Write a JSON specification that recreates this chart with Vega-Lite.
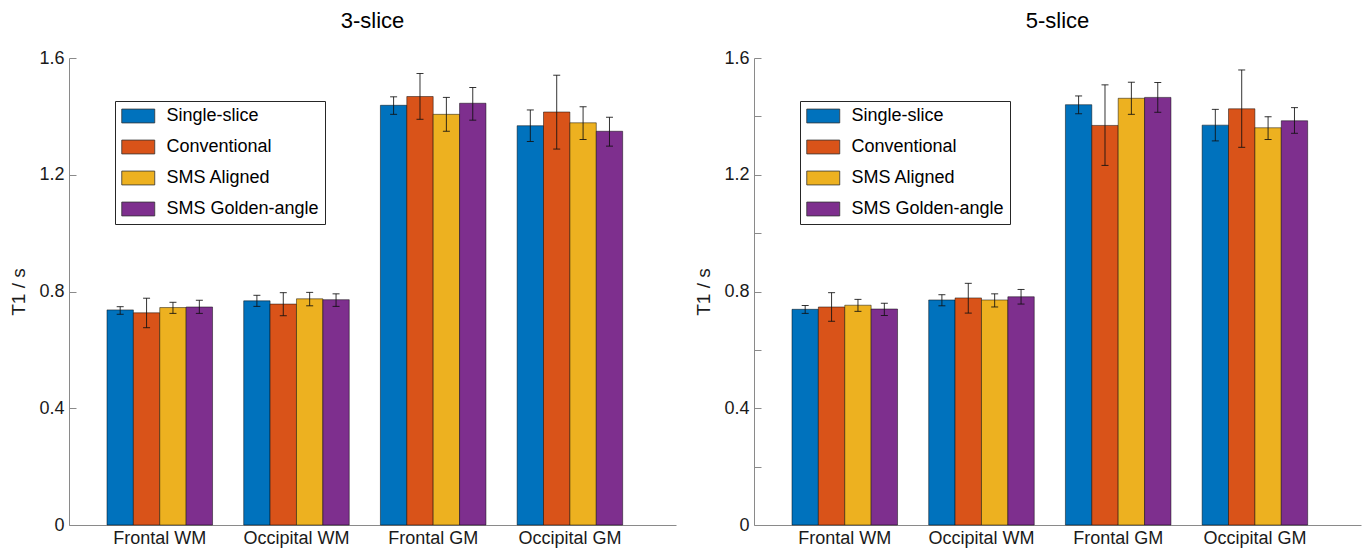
{
  "$schema": "https://vega.github.io/schema/vega-lite/v6.json",
  "background": "white",
  "padding": {"left": 9, "top": 10, "right": 5, "bottom": 5},
  "spacing": 18,
  "config": {
    "view": {"stroke": null},
    "font": "Liberation Sans",
    "axis": {"labelFont": "Liberation Sans", "titleFont": "Liberation Sans", "labelColor": "#1a1a1a", "titleColor": "#1a1a1a", "domainColor": "#8a8a8a", "tickColor": "#8a8a8a", "grid": false, "labelFontSize": 18, "titleFontSize": 19, "titleFontWeight": "normal"}
  },
  "data": {"values": [
    {"panel": "3-slice", "region": "Frontal WM", "method": "Single-slice", "mean": 0.737, "lo": 0.722, "hi": 0.748},
    {"panel": "3-slice", "region": "Frontal WM", "method": "Conventional", "mean": 0.727, "lo": 0.676, "hi": 0.777},
    {"panel": "3-slice", "region": "Frontal WM", "method": "SMS Aligned", "mean": 0.745, "lo": 0.725, "hi": 0.763},
    {"panel": "3-slice", "region": "Frontal WM", "method": "SMS Golden-angle", "mean": 0.747, "lo": 0.725, "hi": 0.770},
    {"panel": "3-slice", "region": "Occipital WM", "method": "Single-slice", "mean": 0.768, "lo": 0.749, "hi": 0.787},
    {"panel": "3-slice", "region": "Occipital WM", "method": "Conventional", "mean": 0.757, "lo": 0.717, "hi": 0.796},
    {"panel": "3-slice", "region": "Occipital WM", "method": "SMS Aligned", "mean": 0.775, "lo": 0.751, "hi": 0.797},
    {"panel": "3-slice", "region": "Occipital WM", "method": "SMS Golden-angle", "mean": 0.772, "lo": 0.749, "hi": 0.792},
    {"panel": "3-slice", "region": "Frontal GM", "method": "Single-slice", "mean": 1.438, "lo": 1.407, "hi": 1.467},
    {"panel": "3-slice", "region": "Frontal GM", "method": "Conventional", "mean": 1.468, "lo": 1.390, "hi": 1.547},
    {"panel": "3-slice", "region": "Frontal GM", "method": "SMS Aligned", "mean": 1.407, "lo": 1.349, "hi": 1.465},
    {"panel": "3-slice", "region": "Frontal GM", "method": "SMS Golden-angle", "mean": 1.445, "lo": 1.387, "hi": 1.499},
    {"panel": "3-slice", "region": "Occipital GM", "method": "Single-slice", "mean": 1.368, "lo": 1.314, "hi": 1.422},
    {"panel": "3-slice", "region": "Occipital GM", "method": "Conventional", "mean": 1.415, "lo": 1.288, "hi": 1.541},
    {"panel": "3-slice", "region": "Occipital GM", "method": "SMS Aligned", "mean": 1.378, "lo": 1.321, "hi": 1.433},
    {"panel": "3-slice", "region": "Occipital GM", "method": "SMS Golden-angle", "mean": 1.349, "lo": 1.298, "hi": 1.397},
    {"panel": "5-slice", "region": "Frontal WM", "method": "Single-slice", "mean": 0.739, "lo": 0.725, "hi": 0.752},
    {"panel": "5-slice", "region": "Frontal WM", "method": "Conventional", "mean": 0.747, "lo": 0.698, "hi": 0.796},
    {"panel": "5-slice", "region": "Frontal WM", "method": "SMS Aligned", "mean": 0.753, "lo": 0.732, "hi": 0.773},
    {"panel": "5-slice", "region": "Frontal WM", "method": "SMS Golden-angle", "mean": 0.740, "lo": 0.718, "hi": 0.760},
    {"panel": "5-slice", "region": "Occipital WM", "method": "Single-slice", "mean": 0.771, "lo": 0.751, "hi": 0.789},
    {"panel": "5-slice", "region": "Occipital WM", "method": "Conventional", "mean": 0.778, "lo": 0.726, "hi": 0.828},
    {"panel": "5-slice", "region": "Occipital WM", "method": "SMS Aligned", "mean": 0.771, "lo": 0.747, "hi": 0.792},
    {"panel": "5-slice", "region": "Occipital WM", "method": "SMS Golden-angle", "mean": 0.782, "lo": 0.757, "hi": 0.807},
    {"panel": "5-slice", "region": "Frontal GM", "method": "Single-slice", "mean": 1.440, "lo": 1.409, "hi": 1.470},
    {"panel": "5-slice", "region": "Frontal GM", "method": "Conventional", "mean": 1.369, "lo": 1.232, "hi": 1.508},
    {"panel": "5-slice", "region": "Frontal GM", "method": "SMS Aligned", "mean": 1.462, "lo": 1.407, "hi": 1.517},
    {"panel": "5-slice", "region": "Frontal GM", "method": "SMS Golden-angle", "mean": 1.465, "lo": 1.414, "hi": 1.516},
    {"panel": "5-slice", "region": "Occipital GM", "method": "Single-slice", "mean": 1.370, "lo": 1.316, "hi": 1.424},
    {"panel": "5-slice", "region": "Occipital GM", "method": "Conventional", "mean": 1.426, "lo": 1.294, "hi": 1.559},
    {"panel": "5-slice", "region": "Occipital GM", "method": "SMS Aligned", "mean": 1.361, "lo": 1.321, "hi": 1.399},
    {"panel": "5-slice", "region": "Occipital GM", "method": "SMS Golden-angle", "mean": 1.385, "lo": 1.342, "hi": 1.430}
  ]},
  "resolve": {"scale": {"color": "independent"}, "legend": {"color": "independent"}},
  "hconcat": [
    {
      "width": 607, "height": 467,
      "title": {"text": "3-slice", "fontSize": 22, "fontWeight": "normal", "frame": "group", "anchor": "middle", "offset": 16, "color": "#000", "font": "Liberation Sans"},
      "transform": [{"filter": "datum.panel == '3-slice'"}],
      "encoding": {
        "x": {"field": "region", "type": "nominal", "sort": ["Frontal WM", "Occipital WM", "Frontal GM", "Occipital GM"], "scale": {"paddingInner": 0.228, "paddingOuter": 0.334, "align": 0.416}, "axis": {"title": null, "ticks": false, "labelAngle": 0, "labelPadding": 4}},
        "xOffset": {"field": "method", "type": "nominal", "sort": ["Single-slice", "Conventional", "SMS Aligned", "SMS Golden-angle"], "scale": {"paddingInner": 0, "paddingOuter": 0}}
      },
      "layer": [
        {"mark": {"type": "bar", "stroke": "#000", "strokeWidth": 0.8, "strokeOpacity": 0.6},
         "encoding": {
           "y": {"field": "mean", "type": "quantitative", "title": "T1 / s", "scale": {"domain": [0, 1.6], "nice": false}, "axis": {"values": [0, 0.4, 0.8, 1.2, 1.6], "format": "~g", "tickSize": -7, "labelPadding": 12, "titlePadding": 10}},
           "color": {"field": "method", "type": "nominal", "sort": ["Single-slice", "Conventional", "SMS Aligned", "SMS Golden-angle"], "scale": {"domain": ["Single-slice", "Conventional", "SMS Aligned", "SMS Golden-angle"], "range": ["#0072BD", "#D95319", "#EDB120", "#7E2F8E"]},
             "legend": {"title": null, "orient": "none", "legendX": 46, "legendY": 43, "strokeColor": "#262626", "fillColor": "white", "padding": 6, "labelFontSize": 18, "labelFont": "Liberation Sans", "labelColor": "#000", "symbolType": "M-1,-0.84H3V0.84H-1Z", "symbolSize": 272, "symbolStrokeColor": "#333", "symbolStrokeWidth": 0.8, "symbolOpacity": 1, "labelOffset": 27.5, "rowPadding": 13}}
         }},
        {"mark": {"type": "rule", "color": "#111", "strokeWidth": 1, "opacity": 0.85},
         "encoding": {"y": {"field": "lo", "type": "quantitative", "title": "T1 / s"}, "y2": {"field": "hi"}}},
        {"mark": {"type": "tick", "color": "#111", "size": 7, "thickness": 1, "orient": "horizontal", "opacity": 0.85},
         "encoding": {"y": {"field": "lo", "type": "quantitative", "title": "T1 / s"}}},
        {"mark": {"type": "tick", "color": "#111", "size": 7, "thickness": 1, "orient": "horizontal", "opacity": 0.85},
         "encoding": {"y": {"field": "hi", "type": "quantitative", "title": "T1 / s"}}}
      ]
    },
    {
      "width": 607, "height": 467,
      "title": {"text": "5-slice", "fontSize": 22, "fontWeight": "normal", "frame": "group", "anchor": "middle", "offset": 16, "color": "#000", "font": "Liberation Sans"},
      "transform": [{"filter": "datum.panel == '5-slice'"}],
      "encoding": {
        "x": {"field": "region", "type": "nominal", "sort": ["Frontal WM", "Occipital WM", "Frontal GM", "Occipital GM"], "scale": {"paddingInner": 0.228, "paddingOuter": 0.334, "align": 0.416}, "axis": {"title": null, "ticks": false, "labelAngle": 0, "labelPadding": 4}},
        "xOffset": {"field": "method", "type": "nominal", "sort": ["Single-slice", "Conventional", "SMS Aligned", "SMS Golden-angle"], "scale": {"paddingInner": 0, "paddingOuter": 0}}
      },
      "layer": [
        {"mark": {"type": "bar", "stroke": "#000", "strokeWidth": 0.8, "strokeOpacity": 0.6},
         "encoding": {
           "y": {"field": "mean", "type": "quantitative", "title": "T1 / s", "scale": {"domain": [0, 1.6], "nice": false}, "axis": {"values": [0, 0.2, 0.4, 0.6, 0.8, 1.0, 1.2, 1.4, 1.6], "format": "~g", "labelExpr": "indexof(['0','0.4','0.8','1.2','1.6'], datum.label) >= 0 ? datum.label : ''", "tickSize": -7, "labelPadding": 12, "titlePadding": 10}},
           "color": {"field": "method", "type": "nominal", "sort": ["Single-slice", "Conventional", "SMS Aligned", "SMS Golden-angle"], "scale": {"domain": ["Single-slice", "Conventional", "SMS Aligned", "SMS Golden-angle"], "range": ["#0072BD", "#D95319", "#EDB120", "#7E2F8E"]},
             "legend": {"title": null, "orient": "none", "legendX": 46, "legendY": 43, "strokeColor": "#262626", "fillColor": "white", "padding": 6, "labelFontSize": 18, "labelFont": "Liberation Sans", "labelColor": "#000", "symbolType": "M-1,-0.84H3V0.84H-1Z", "symbolSize": 272, "symbolStrokeColor": "#333", "symbolStrokeWidth": 0.8, "symbolOpacity": 1, "labelOffset": 27.5, "rowPadding": 13}}
         }},
        {"mark": {"type": "rule", "color": "#111", "strokeWidth": 1, "opacity": 0.85},
         "encoding": {"y": {"field": "lo", "type": "quantitative", "title": "T1 / s"}, "y2": {"field": "hi"}}},
        {"mark": {"type": "tick", "color": "#111", "size": 7, "thickness": 1, "orient": "horizontal", "opacity": 0.85},
         "encoding": {"y": {"field": "lo", "type": "quantitative", "title": "T1 / s"}}},
        {"mark": {"type": "tick", "color": "#111", "size": 7, "thickness": 1, "orient": "horizontal", "opacity": 0.85},
         "encoding": {"y": {"field": "hi", "type": "quantitative", "title": "T1 / s"}}}
      ]
    }
  ]
}
